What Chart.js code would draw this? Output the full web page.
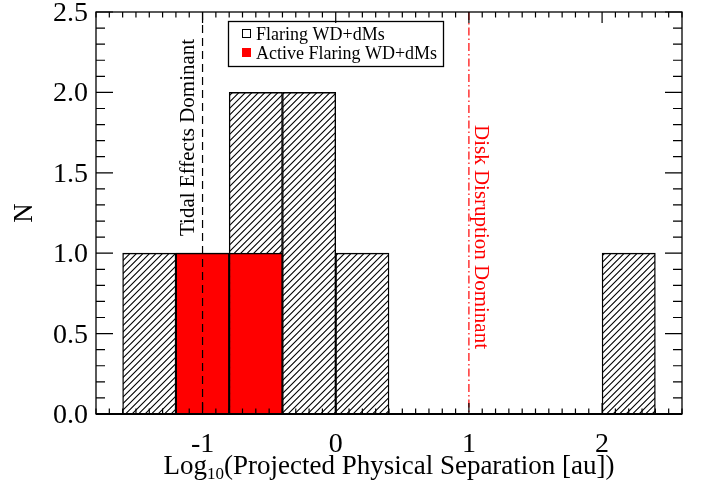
<!DOCTYPE html>
<html>
<head>
<meta charset="utf-8">
<script src="https://cdn.jsdelivr.net/npm/chart.js@4/dist/chart.umd.min.js"></script>
<style>
  html, body { margin: 0; padding: 0; background: #fff; }
  #wrap { width: 704px; height: 484px; }
</style>
</head>
<body>
<div id="wrap"><canvas id="hist"></canvas></div>
<script>
// histogram bins (centres, width 0.4 in log10 au)
const binCenters = [-1.4, -1.0, -0.6, -0.2, 0.2, 2.2];
const flaringCounts = [1, 1, 2, 2, 1, 1];
const activeCenters = [-1.0, -0.6];
const activeCounts = [1, 1];

const xRange = [-1.8, 2.6];
const yRange = [0, 2.5];
const xTicks = [-1, 0, 1, 2];
const yTicks = [0, 0.5, 1.0, 1.5, 2.0, 2.5];
const tidalX = -1;
const diskX = 1;

const FONT = '"Liberation Serif", "DejaVu Serif", serif';

// "/" hatch fill, two lines per 13px tile
function makeHatch() {
    const s = 13;
    const c = document.createElement('canvas');
    c.width = s; c.height = s;
    const g = c.getContext('2d');
    g.fillStyle = '#fff';
    g.fillRect(0, 0, s, s);
    g.strokeStyle = '#000';
    g.lineWidth = 1.1;
    g.beginPath();
    for (let off = -s; off <= 2 * s; off += s / 2) {
        g.moveTo(off - 2, s + 2);
        g.lineTo(off + s + 2, -2);
    }
    g.stroke();
    return g.createPattern(c, 'repeat');
}

function text(ctx, str, x, y, size, opts = {}) {
    ctx.save();
    ctx.translate(x, y);
    if (opts.rot) ctx.rotate(opts.rot);
    ctx.font = size + 'px ' + FONT;
    ctx.fillStyle = opts.color || '#000';
    ctx.textAlign = opts.align || 'left';
    ctx.textBaseline = 'alphabetic';
    ctx.fillText(str, 0, 0);
    ctx.restore();
}

function textWidth(ctx, str, size) {
    ctx.font = size + 'px ' + FONT;
    return ctx.measureText(str).width;
}

// minor tick values every 0.1
function tenths(lo, hi) {
    const out = [];
    for (let k = Math.round(lo * 10); k <= Math.round(hi * 10); k++) out.push(k);
    return out;
}

const idlFrame = {
    id: 'idlFrame',
    afterDatasetsDraw(chart) {
        const { ctx, chartArea: a, scales: { x, y } } = chart;
        ctx.save();
        ctx.lineWidth = 1.2;

        // vertical reference lines
        ctx.strokeStyle = '#000';
        ctx.setLineDash([8, 5]);
        ctx.beginPath();
        ctx.moveTo(x.getPixelForValue(tidalX), a.top);
        ctx.lineTo(x.getPixelForValue(tidalX), a.bottom);
        ctx.stroke();
        ctx.strokeStyle = '#ff0000';
        ctx.setLineDash([8, 3, 1.5, 3]);
        ctx.beginPath();
        ctx.moveTo(x.getPixelForValue(diskX), a.top);
        ctx.lineTo(x.getPixelForValue(diskX), a.bottom);
        ctx.stroke();
        ctx.setLineDash([]);

        // frame (bottom edge heavier, it carries the histogram baseline)
        ctx.strokeStyle = '#000';
        ctx.lineWidth = 1.3;
        ctx.strokeRect(a.left, a.top, a.right - a.left, a.bottom - a.top);
        ctx.lineWidth = 2.2;
        ctx.beginPath();
        ctx.moveTo(a.left, a.bottom);
        ctx.lineTo(a.right, a.bottom);
        ctx.stroke();

        // tick labels
        xTicks.forEach(v => text(ctx, String(v), x.getPixelForValue(v), a.bottom + 38, 28, { align: 'center' }));
        yTicks.forEach(v => text(ctx, v.toFixed(1), a.left - 8, y.getPixelForValue(v) + 9, 28, { align: 'right' }));

        // axis titles
        const t1 = 'Log', t2 = '10', t3 = '(Projected Physical Separation [au])';
        const w1 = textWidth(ctx, t1, 27), w2 = textWidth(ctx, t2, 17), w3 = textWidth(ctx, t3, 27);
        let tx = (a.left + a.right) / 2 - (w1 + w2 + w3) / 2;
        const ty = a.bottom + 60;
        text(ctx, t1, tx, ty, 27); tx += w1;
        text(ctx, t2, tx, ty + 5, 17); tx += w2;
        text(ctx, t3, tx, ty, 27);
        text(ctx, 'N', 32, (a.top + a.bottom) / 2, 27, { rot: -Math.PI / 2, align: 'center' });

        // line annotations
        text(ctx, 'Tidal Effects Dominant', x.getPixelForValue(tidalX) - 9, 236, 21, { rot: -Math.PI / 2 });
        text(ctx, 'Disk Disruption Dominant', x.getPixelForValue(diskX) + 6, 125, 21, { rot: Math.PI / 2, color: '#ff0000' });

        // legend
        ctx.fillStyle = '#fff';
        ctx.fillRect(228, 21, 216, 45);
        ctx.lineWidth = 1.3;
        ctx.strokeStyle = '#000';
        ctx.strokeRect(228.5, 21.5, 215, 45);
        ctx.lineWidth = 1;
        ctx.strokeRect(242.5, 29.5, 8, 8);
        ctx.fillStyle = '#ff0000';
        ctx.fillRect(242, 48, 9, 9);
        text(ctx, 'Flaring WD+dMs', 256, 40, 18);
        text(ctx, 'Active Flaring WD+dMs', 256, 59, 18);
        ctx.restore();
    },
    afterDraw(chart) {
        // inward ticks on all four sides
        const { ctx, chartArea: a, scales: { x, y } } = chart;
        ctx.save();
        ctx.strokeStyle = '#000000';
        ctx.lineWidth = 1.2;
        ctx.beginPath();
        tenths(xRange[0], xRange[1]).forEach(k => {
            const px = x.getPixelForValue(k / 10);
            const len = (k % 10 === 0) ? 11 : 5.5;
            ctx.moveTo(px, a.bottom);
            ctx.lineTo(px, a.bottom - len);
            ctx.moveTo(px, a.top);
            ctx.lineTo(px, a.top + len);
        });
        tenths(yRange[0], yRange[1]).forEach(k => {
            const py = y.getPixelForValue(k / 10);
            const len = (k % 5 === 0) ? 17 : 9;
            ctx.moveTo(a.left, py);
            ctx.lineTo(a.left + len, py);
            ctx.moveTo(a.right, py);
            ctx.lineTo(a.right - len, py);
        });
        ctx.stroke();
        ctx.restore();
    }
};

const hatch = makeHatch();

new Chart(document.getElementById('hist'), {
    type: 'bar',
    data: {
        datasets: [
            {
                label: 'Active Flaring WD+dMs',
                data: activeCenters.map((c, i) => ({ x: c, y: activeCounts[i] })),
                backgroundColor: '#ff0000',
                borderColor: '#000',
                borderWidth: 1.4,
                borderSkipped: false,
                grouped: false,
                barPercentage: 1,
                categoryPercentage: 1
            },
            {
                label: 'Flaring WD+dMs',
                data: binCenters.map((c, i) => ({ x: c, y: flaringCounts[i] })),
                backgroundColor: hatch,
                borderColor: '#000',
                borderWidth: 1.4,
                borderSkipped: false,
                grouped: false,
                barPercentage: 1,
                categoryPercentage: 1
            }
        ]
    },
    options: {
        responsive: true,
        maintainAspectRatio: false,
        animation: false,
        layout: { padding: { left: 96, right: 22, top: 12, bottom: 70 } },
        plugins: { legend: { display: false }, tooltip: { enabled: false } },
        scales: {
            x: { type: 'linear', offset: false, min: xRange[0], max: xRange[1], display: false },
            y: { type: 'linear', min: yRange[0], max: yRange[1], display: false }
        }
    },
    plugins: [idlFrame]
});
</script>
</body>
</html>
